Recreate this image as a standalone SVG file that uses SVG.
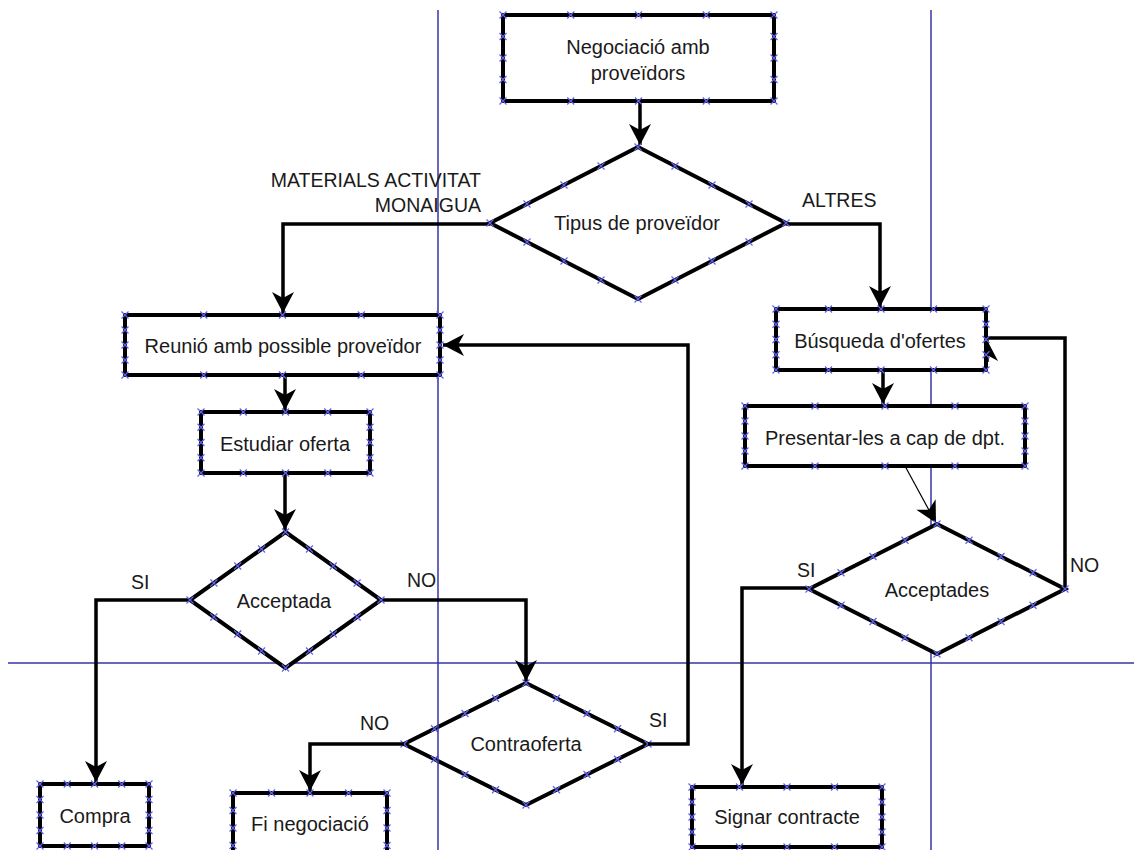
<svg xmlns="http://www.w3.org/2000/svg" width="1134" height="850" viewBox="0 0 1134 850">
<style>
.shape{fill:#fff;stroke:#000;stroke-width:4}
.open{fill:none;stroke:#000;stroke-width:4}
.guide{stroke:#3434a8;stroke-width:1.5;fill:none}
.conn{fill:none;stroke:#000;stroke-width:3.5}
.thin{fill:none;stroke:#000;stroke-width:1.2}
.mk{fill:none;stroke:none;marker-start:url(#xm);marker-mid:url(#xm);marker-end:url(#xm)}
.t{font-family:"Liberation Sans",Arial,sans-serif;font-size:20px;fill:#1a1a1a;text-anchor:middle}
.l{font-family:"Liberation Sans",Arial,sans-serif;font-size:19.5px;fill:#1a1a1a}
</style>
<defs>
<marker id="xm" markerUnits="userSpaceOnUse" markerWidth="12" markerHeight="12" viewBox="-6 -6 12 12" refX="0" refY="0" overflow="visible">
<path d="M-3.5,-3.5 L3.5,3.5 M-3.5,3.5 L3.5,-3.5" stroke="#6262ee" stroke-width="1.2" fill="none"/>
</marker>
<marker id="ah" markerUnits="userSpaceOnUse" markerWidth="26" markerHeight="26" viewBox="-24 -13 26 26" refX="0" refY="0" orient="auto" overflow="visible">
<path d="M0,0 L-21,-11 L-15,0 L-21,11 Z" fill="#000"/>
</marker>
</defs>
<rect width="1134" height="850" fill="#fff"/>

<g id="n-contraoferta">
<polygon class="open" points="526,683 648,744 526,805 404,744"/>
<text class="t" x="526" y="751">Contraoferta</text>
<polyline class="mk" points="526,683 556.5,698.25 587,713.5 617.5,728.75 648,744 617.5,759.25 587,774.5 556.5,789.75 526,805 495.5,789.75 465,774.5 434.5,759.25 404,744 434.5,728.75 465,713.5 495.5,698.25"/>
</g>

<g id="guides">
<line class="guide" x1="438" y1="10" x2="438" y2="850"/>
<line class="guide" x1="931" y1="10" x2="931" y2="850"/>
<line class="guide" x1="8" y1="663" x2="1134" y2="663"/>
</g>

<g id="connectors">
<path class="conn" d="M640,101 L640,145" marker-end="url(#ah)"/>
<path class="conn" d="M490,224 L283,224 L283,313" marker-end="url(#ah)"/>
<path class="conn" d="M786,224 L880,224 L880,307" marker-end="url(#ah)"/>
<path class="conn" d="M285,375 L285,410" marker-end="url(#ah)"/>
<path class="conn" d="M285,473 L285,530" marker-end="url(#ah)"/>
<path class="conn" d="M190,600 L96,600 L96,782" marker-end="url(#ah)"/>
<path class="conn" d="M381,600 L526,600 L526,681" marker-end="url(#ah)"/>
<path class="conn" d="M404,744 L310,744 L310,791" marker-end="url(#ah)"/>
<path class="conn" d="M648,744 L688,744 L688,345 L443,345" marker-end="url(#ah)"/>
<path class="conn" d="M883,370 L883,404" marker-end="url(#ah)"/>
<path class="thin" d="M905,466 L936,523" marker-end="url(#ah)"/>
<path class="conn" d="M809,588 L742,588 L742,785" marker-end="url(#ah)"/>
<path class="conn" d="M1065,589 L1065,338 L987,338"/>
<path class="conn" d="M987,362 L987,340" marker-end="url(#ah)"/>
<text class="l" x="481" y="187" text-anchor="end">MATERIALS ACTIVITAT</text>
<text class="l" x="481" y="212" text-anchor="end">MONAIGUA</text>
<text class="l" x="802" y="207">ALTRES</text>
<text class="l" x="131" y="589">SI</text>
<text class="l" x="407" y="587">NO</text>
<text class="l" x="360" y="730">NO</text>
<text class="l" x="649" y="727">SI</text>
<text class="l" x="797" y="577">SI</text>
<text class="l" x="1070" y="572">NO</text>
</g>

<g id="n-negociacio">
<rect class="shape" x="503" y="15" width="271" height="86"/>
<text class="t" x="638" y="54">Negociació amb</text>
<text class="t" x="638" y="80">proveïdors</text>
<polyline class="mk" points="503,15 570.75,15 638.5,15 706.25,15 774,15 774,36.5 774,58 774,79.5 774,101 706.25,101 638.5,101 570.75,101 503,101 503,79.5 503,58 503,36.5"/>
</g>

<g id="n-tipus">
<polygon class="shape" points="638,147 786,223 638,299 490,223"/>
<text class="t" x="637" y="230">Tipus de proveïdor</text>
<polyline class="mk" points="638,147 675,166 712,185 749,204 786,223 749,242 712,261 675,280 638,299 601,280 564,261 527,242 490,223 527,204 564,185 601,166"/>
</g>

<g id="n-reunio">
<rect class="shape" x="125" y="315" width="315" height="60"/>
<text class="t" x="283" y="353">Reunió amb possible proveïdor</text>
<polyline class="mk" points="125,315 203.75,315 282.5,315 361.25,315 440,315 440,330 440,345 440,360 440,375 361.25,375 282.5,375 203.75,375 125,375 125,360 125,345 125,330"/>
</g>

<g id="n-estudiar">
<rect class="shape" x="201" y="412" width="169" height="61"/>
<text class="t" x="285" y="451">Estudiar oferta</text>
<polyline class="mk" points="201,412 243.25,412 285.5,412 327.75,412 370,412 370,427.25 370,442.5 370,457.75 370,473 327.75,473 285.5,473 243.25,473 201,473 201,457.75 201,442.5 201,427.25"/>
</g>

<g id="n-acceptada">
<polygon class="shape" points="285.5,532 381,600 285.5,668 190,600"/>
<text class="t" x="284" y="608">Acceptada</text>
<polyline class="mk" points="285.5,532 309.4,549 333.25,566 357.1,583 381,600 357.1,617 333.25,634 309.4,651 285.5,668 261.6,651 237.75,634 213.9,617 190,600 213.9,583 237.75,566 261.6,549"/>
</g>

<g id="n-compra">
<rect class="shape" x="40" y="784" width="109" height="62"/>
<text class="t" x="95" y="823">Compra</text>
<polyline class="mk" points="40,784 67.25,784 94.5,784 121.75,784 149,784 149,799.5 149,815 149,830.5 149,846 121.75,846 94.5,846 67.25,846 40,846 40,830.5 40,815 40,799.5"/>
</g>

<g id="n-fi">
<rect class="shape" x="233" y="793" width="154" height="70"/>
<text class="t" x="310" y="831">Fi negociació</text>
<polyline class="mk" points="233,793 271.5,793 310,793 348.5,793 387,793 387,810.5 387,828 387,845.5 233,845.5 233,828 233,810.5"/>
</g>

<g id="n-busqueda">
<rect class="shape" x="776" y="309" width="210" height="61"/>
<text class="t" x="880" y="348">Búsqueda d'ofertes</text>
<polyline class="mk" points="776,309 828.5,309 881,309 933.5,309 986,309 986,324.25 986,339.5 986,354.75 986,370 933.5,370 881,370 828.5,370 776,370 776,354.75 776,339.5 776,324.25"/>
</g>

<g id="n-presentar">
<rect class="shape" x="745" y="406" width="280" height="60"/>
<text class="t" x="885" y="445">Presentar-les a cap de dpt.</text>
<polyline class="mk" points="745,406 815,406 885,406 955,406 1025,406 1025,421 1025,436 1025,451 1025,466 955,466 885,466 815,466 745,466 745,451 745,436 745,421"/>
</g>

<g id="n-acceptades">
<polygon class="shape" points="937,524 1065,589 937,654 809,589"/>
<text class="t" x="937" y="597">Acceptades</text>
<polyline class="mk" points="937,524 969,540.25 1001,556.5 1033,572.75 1065,589 1033,605.25 1001,621.5 969,637.75 937,654 905,637.75 873,621.5 841,605.25 809,589 841,572.75 873,556.5 905,540.25"/>
</g>

<g id="n-signar">
<rect class="shape" x="692" y="787" width="190" height="60"/>
<text class="t" x="787" y="824">Signar contracte</text>
<polyline class="mk" points="692,787 739.5,787 787,787 834.5,787 882,787 882,802 882,817 882,832 882,847 834.5,847 787,847 739.5,847 692,847 692,832 692,817 692,802"/>
</g>
</svg>
